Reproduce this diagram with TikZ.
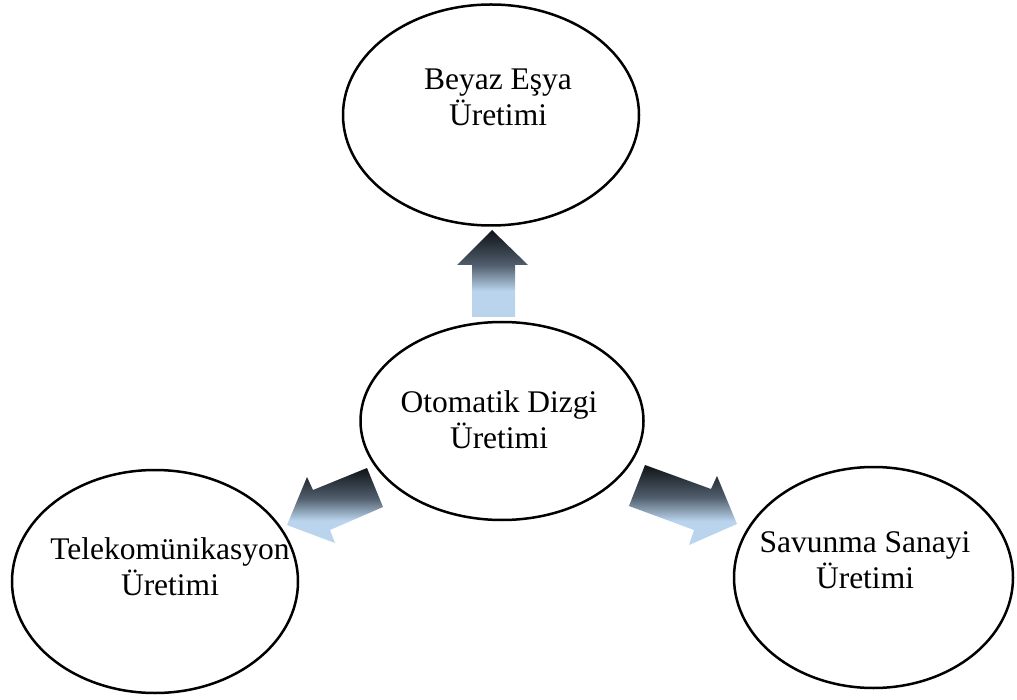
\documentclass[tikz,border=0pt]{standalone}
\usepackage{fontspec}
\setmainfont{Liberation Serif}
\usetikzlibrary{shapes.geometric}
\definecolor{arrdark}{HTML}{0F1317}
\definecolor{arrmid}{HTML}{505D6C}
\definecolor{arrlight}{HTML}{B9D4EC}
\pgfdeclareverticalshading{arrowfade}{100bp}{color(0bp)=(arrlight); color(40bp)=(arrlight); color(55bp)=(arrmid); color(75bp)=(arrdark); color(100bp)=(arrdark)}
\begin{document}
\begin{tikzpicture}[x=1pt,y=-1pt,
  bubble/.style={draw=black, line width=2.5pt, ellipse, inner sep=0pt},
  caption/.style={align=center, anchor=base, inner sep=0pt, font=\fontsize{31.5}{36}\selectfont},
  blockarrow/.style={shading=arrowfade}]
\useasboundingbox (0,0) rectangle (1017,700);

% ellipses
\node[bubble, minimum width=296pt, minimum height=221pt] (beyaz) at (491,115) {};
\node[bubble, minimum width=283pt, minimum height=198pt] (otomatik) at (502,421) {};
\node[bubble, minimum width=286pt, minimum height=223pt] (telekom) at (155,581.5) {};
\node[bubble, minimum width=279pt, minimum height=221pt] (savunma) at (873.5,577.5) {};

% labels (anchored at the baseline of the last line)
\node[caption] (lbeyaz) at (498,126) {Beyaz Eşya\\Üretimi};
\node[caption] (lotomatik) at (499,448) {Otomatik Dizgi\\Üretimi};
\node[caption] (ltelekom) at (170,595) {Telekomünikasyon\\Üretimi};
\node[caption] (lsavunma) at (865,588) {Savunma Sanayi\\Üretimi};

% block arrows leaving the central ellipse
\shade[blockarrow] (492,230) -- (528,265) -- (515,265) -- (515,317) -- (472,317) -- (472,265) -- (457,265) -- cycle;
\shade[blockarrow] (287,525) -- (335,543) -- (330,530) -- (383,507) -- (367,468) -- (313,490) -- (307,477) -- cycle;
\shade[blockarrow] (737,524) -- (689,545) -- (694,530) -- (629,506) -- (645,465) -- (711,489) -- (717,476) -- cycle;
\end{tikzpicture}
\end{document}
